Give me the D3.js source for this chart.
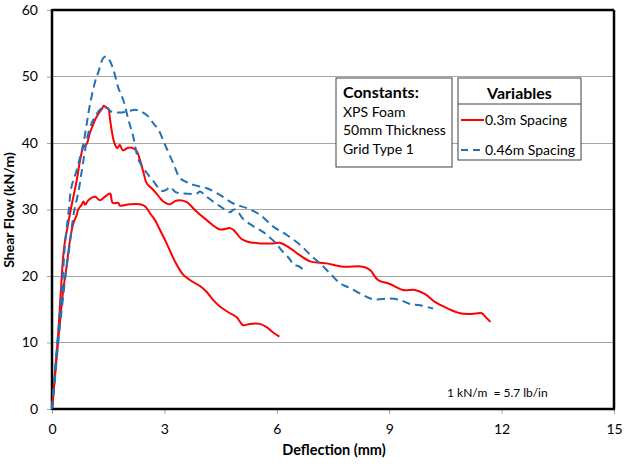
<!DOCTYPE html>
<html>
<head>
<meta charset="utf-8">
<script src="https://cdn.jsdelivr.net/npm/d3@7"></script>
<style>
  html, body { margin: 0; padding: 0; background: #fff; }
  svg { display: block; font-family: Lato, "Open Sans", sans-serif; }
</style>
</head>
<body>
<svg id="chart" width="626" height="464"></svg>
<script>
// ---------- data ----------
const xTicks = [0, 3, 6, 9, 12, 15];
const yTicks = [0, 10, 20, 30, 40, 50, 60];

// 0.3m spacing, specimen 1 [deflection mm, shear flow kN/m]
const red1 = [[0,0],[0.08,4.9],[0.15,9.9],[0.21,15.4],[0.26,19.9],[0.3,23],[0.35,25.4],[0.42,27.5],[0.48,29.4],[0.57,31.9],[0.66,34.4],[0.75,37.4],[0.84,39.4],[0.93,39.9],[1.01,41.5],[1.1,42.8],[1.15,43.5],[1.24,44.4],[1.33,45.1],[1.38,45.6],[1.45,45.3],[1.5,45.2],[1.55,43.5],[1.59,42],[1.64,40.5],[1.68,39.8],[1.74,39.2],[1.81,39.7],[1.89,38.9],[1.97,39.1],[2.04,39.3],[2.17,39.2],[2.26,38.8],[2.35,37.4],[2.44,35.6],[2.53,33.9],[2.66,33.2],[2.79,32.4],[2.9,31.6],[2.97,31.2],[3.06,30.9],[3.15,30.8],[3.3,31.3],[3.42,31.4],[3.6,31.1],[3.82,29.9],[4.13,28.4],[4.48,27.0],[4.75,27.2],[4.85,26.9],[4.93,26.4],[5.05,25.6],[5.2,25.2],[5.55,24.9],[5.9,24.9],[6.08,25.0],[6.35,24.2],[6.62,23.1],[6.89,22.2],[7.15,22.0],[7.33,21.9],[7.77,21.4],[8.3,21.4],[8.49,20.9],[8.7,19.4],[9.02,18.8],[9.37,17.9],[9.69,17.9],[9.95,17.3],[10.22,16.1],[10.53,15.2],[10.89,14.4],[11.2,14.3],[11.47,14.4],[11.56,13.9],[11.7,13.1]];

// 0.3m spacing, specimen 2
const red2 = [[0,0],[0.06,4],[0.12,7.9],[0.21,12.9],[0.3,17.9],[0.39,21.4],[0.48,25.4],[0.57,27.9],[0.66,29.2],[0.7,30],[0.79,30.7],[0.84,31.2],[0.88,30.7],[0.97,31.4],[1.15,31.9],[1.28,31.4],[1.41,31.9],[1.55,32.4],[1.62,31.0],[1.77,31.0],[1.81,30.6],[2.08,30.8],[2.35,30.8],[2.48,30.5],[2.62,29.4],[2.75,28.4],[2.84,27.4],[3.06,24.9],[3.28,22.2],[3.5,20.2],[3.68,19.4],[3.95,18.5],[4.13,17.6],[4.3,16.4],[4.48,15.4],[4.75,14.4],[4.93,13.8],[5.1,12.6],[5.28,12.8],[5.55,12.8],[5.73,12.3],[5.9,11.5],[6.07,10.9]];

// 0.46m spacing, specimen 1
const blue1 = [[0,0],[0.08,5.9],[0.17,11.9],[0.25,17],[0.3,21],[0.35,25],[0.44,29.5],[0.52,33.4],[0.66,35.9],[0.75,37.9],[0.84,40],[0.93,43],[1.01,45.7],[1.15,49.2],[1.24,50.7],[1.37,52.8],[1.46,53],[1.55,52.3],[1.64,51],[1.77,48.3],[1.9,46.5],[2.04,43.5],[2.17,40.9],[2.3,37.6],[2.44,36.2],[2.53,35.5],[2.7,34.3],[2.93,32.8],[3.06,33],[3.15,33.4],[3.3,32.6],[3.5,32.4],[3.86,32.4],[3.95,32.7],[4.13,31.9],[4.48,30.5],[4.75,29.6],[4.85,30],[4.93,29.9],[5.1,28.6],[5.37,27.5],[5.64,26.6],[5.91,25.3],[6.17,23.6],[6.35,22.5],[6.44,21.7],[6.57,21.5],[6.8,20.6]];

// 0.46m spacing, specimen 2
const blue2 = [[0,0],[0.07,4],[0.15,9],[0.22,13],[0.3,17],[0.39,21.5],[0.48,25],[0.52,27],[0.6,30],[0.7,32.5],[0.8,36],[0.9,39.5],[0.97,41.5],[1.1,43.5],[1.28,45],[1.41,45.5],[1.59,44.7],[1.86,44.6],[2.05,44.8],[2.22,45],[2.39,44.7],[2.57,44],[2.7,43],[2.84,42],[3.02,39.7],[3.24,36.9],[3.42,34.7],[3.6,34.1],[3.77,33.7],[4.13,33.2],[4.48,32.2],[4.84,30.9],[5.2,30.2],[5.55,29.2],[5.91,27.4],[6.26,26.2],[6.62,24.7],[6.89,23.2],[7.15,21.9],[7.42,20.4],[7.69,18.9],[7.95,18.2],[8.31,17.1],[8.58,16.5],[9.02,16.6],[9.29,16.4],[9.55,15.8],[9.82,15.6],[10.17,15.1]];

const seriesNames = ["0.3m Spacing", "0.46m Spacing"];
const constantsTitle = "Constants:";
const constantsLines = ["XPS Foam", "50mm Thickness", "Grid Type 1"];
const variablesTitle = "Variables";
const xTitle = "Deflection (mm)";
const yTitle = "Shear Flow (kN/m)";
const noteText = "1 kN/m  = 5.7 lb/in";

// ---------- drawing ----------
const RED = "#ff0000", BLUE = "#2071b5";
const svg = d3.select("#chart");
const L = 52, R = 614, T = 10, B = 409;
const x = d3.scaleLinear().domain([0, 15]).range([L, R]);
const y = d3.scaleLinear().domain([0, 60]).range([B, T]);

// gridlines
svg.append("g").selectAll("line").data(yTicks.filter(d => d > 0 && d < 60)).join("line")
  .attr("x1", L).attr("x2", R).attr("y1", d => y(d)).attr("y2", d => y(d))
  .attr("stroke", "#a6a6a6").attr("stroke-width", 1).attr("shape-rendering", "crispEdges");

// axes
const yAxis = svg.append("g").attr("transform", `translate(${L},0)`)
  .call(d3.axisLeft(y).tickValues(yTicks).tickSizeInner(5).tickSizeOuter(0).tickPadding(9));
const xAxis = svg.append("g").attr("transform", `translate(0,${B})`)
  .call(d3.axisBottom(x).tickValues(xTicks).tickSizeInner(5).tickSizeOuter(0).tickPadding(10));
[yAxis, xAxis].forEach(g => {
  g.select(".domain").remove();
  g.selectAll(".tick line").attr("stroke", "#a6a6a6");
  g.selectAll(".tick text").attr("font-family", "Lato, 'Open Sans', sans-serif")
    .attr("font-size", 14).attr("fill", "#000");
});

// frame
svg.append("line").attr("x1", L).attr("x2", R).attr("y1", T).attr("y2", T)
  .attr("stroke", "#000").attr("stroke-width", 2.5);
svg.append("line").attr("x1", R).attr("x2", R).attr("y1", T).attr("y2", B)
  .attr("stroke", "#000").attr("stroke-width", 2.5);
svg.append("line").attr("x1", L).attr("x2", L).attr("y1", T - 1).attr("y2", B + 1)
  .attr("stroke", "#000").attr("stroke-width", 2.5);
svg.append("line").attr("x1", L).attr("x2", R + 1).attr("y1", B).attr("y2", B)
  .attr("stroke", "#000").attr("stroke-width", 2.5);

// series
const line = d3.line().x(d => x(d[0])).y(d => y(d[1])).curve(d3.curveCatmullRom.alpha(0.5));
const series = [
  {data: red1, color: RED, dash: null},
  {data: red2, color: RED, dash: null},
  {data: blue1, color: BLUE, dash: "8,5"},
  {data: blue2, color: BLUE, dash: "8,5"}
];
svg.append("g").selectAll("path").data(series).join("path")
  .attr("d", d => line(d.data)).attr("fill", "none")
  .attr("stroke", d => d.color).attr("stroke-width", 2)
  .attr("stroke-dasharray", d => d.dash);

// axis titles
svg.append("text").attr("x", (L + R) / 2 + 1).attr("y", 455).attr("text-anchor", "middle")
  .attr("font-size", 14.5).attr("font-weight", "bold").text(xTitle);
svg.append("text").attr("transform", "translate(14,210) rotate(-90)").attr("text-anchor", "middle")
  .attr("font-size", 14).attr("font-weight", "bold").text(yTitle);

// note
svg.append("text").attr("x", 447).attr("y", 397).attr("font-size", 12)
  .style("white-space", "pre").text(noteText);

// constants box
const cb = svg.append("g");
cb.append("rect").attr("x", 336).attr("y", 78).attr("width", 116).attr("height", 89)
  .attr("fill", "#fff").attr("stroke", "#404040").attr("stroke-width", 1);
cb.append("text").attr("x", 343).attr("y", 98).attr("font-size", 16).attr("font-weight", "bold").text(constantsTitle);
cb.selectAll("text.c").data(constantsLines).join("text").attr("class", "c")
  .attr("x", 343).attr("y", (d, i) => 117 + i * 18.3).attr("font-size", 14).text(d => d);

// variables legend box
const vb = svg.append("g");
vb.append("rect").attr("x", 458).attr("y", 78).attr("width", 123).attr("height", 82)
  .attr("fill", "#fff").attr("stroke", "#404040").attr("stroke-width", 1);
vb.append("line").attr("x1", 458).attr("x2", 581).attr("y1", 104).attr("y2", 104)
  .attr("stroke", "#404040").attr("stroke-width", 1);
vb.append("text").attr("x", 519.5).attr("y", 98.5).attr("text-anchor", "middle")
  .attr("font-size", 16).attr("font-weight", "bold").text(variablesTitle);
const legendRows = [{name: seriesNames[0], color: RED, dash: null, y: 120},
                    {name: seriesNames[1], color: BLUE, dash: "7,5", y: 150}];
legendRows.forEach(r => {
  vb.append("line").attr("x1", 461).attr("x2", 484).attr("y1", r.y).attr("y2", r.y)
    .attr("stroke", r.color).attr("stroke-width", 2).attr("stroke-dasharray", r.dash);
  vb.append("text").attr("x", 485).attr("y", r.y + 4.5).attr("font-size", 14).text(r.name);
});
</script>
</body>
</html>
